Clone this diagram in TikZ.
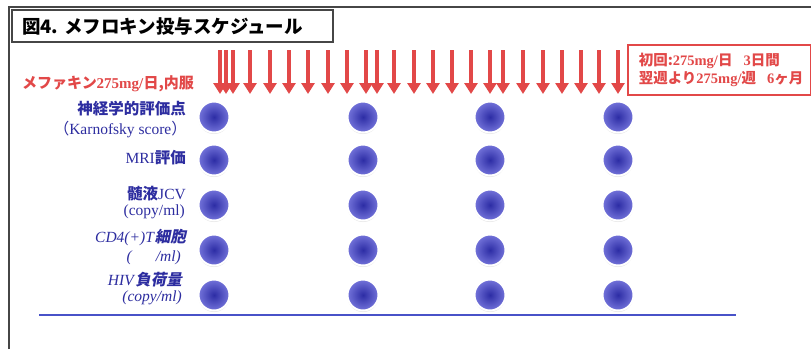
\documentclass[tikz,border=0pt]{standalone}
\usepackage{fontspec}
\setmainfont{Liberation Serif}
\newfontfamily\jp{Noto Sans CJK JP}
\newfontfamily\jpsl{Noto Sans CJK JP}[FakeSlant=0.2]
\usetikzlibrary{arrows.meta,shadows}

\definecolor{dosered}{RGB}{226,72,72}
\definecolor{labelblue}{RGB}{45,45,160}
\definecolor{axisblue}{RGB}{72,82,200}
\definecolor{dotcore}{RGB}{45,45,165}
\definecolor{dotedge}{RGB}{115,115,218}
\definecolor{framegray}{RGB}{70,70,70}

% Japanese bold / slanted helpers
\newcommand{\J}[1]{{\jp\bfseries #1}}
\newcommand{\JI}[1]{{\jpsl\bfseries #1}}
\newcommand{\Jr}[1]{{\jp #1}}

\tikzset{
  outerframe/.style={draw=framegray, line width=2pt},
  titlebox/.style={draw=framegray, line width=1.6pt},
  dose/.style={draw=dosered, line width=3.2pt, -{Triangle[width=13pt,length=11pt]}},
  lab/.style={anchor=east, text=labelblue, inner sep=0pt, font=\fontsize{15.5}{17}\selectfont},
  sample/.style={circle, minimum size=31pt, inner sep=0pt, inner color=dotcore, outer color=dotedge,
    draw=white, line width=2pt, drop shadow={shadow xshift=0pt, shadow yshift=-1.5pt, fill=black!22}},
  regbox/.style={draw=dosered, line width=1.5pt, text=dosered, inner xsep=11pt, inner ysep=4pt,
    font=\fontsize{14.5}{18}\selectfont, align=left},
  axis/.style={draw=axisblue, line width=2.5pt}
}

\begin{document}
\begin{tikzpicture}[x=1pt, y=-1pt]
\useasboundingbox (0,0) rectangle (811,349);
\fill[white] (0,0) rectangle (811,349);

% outer frame (top and left edges)
\draw[outerframe] (9,349) -- (9,7) -- (811,7);

% title
\draw[titlebox] (12,10) rectangle (333,42);
\node[anchor=west, inner sep=0pt, font=\fontsize{18.5}{20}\selectfont] (title) at (22,26) {\J{図4. メフロキン投与スケジュール}};

% dosing arrows: three daily doses, then weekly
\foreach \x in {220,226,233,250,270,289,308,328,347,366,377,394,414,433,452,471,490,503,523,543,562,581,599,618}
  \draw[dose] (\x,50) -- (\x,94);

\node[anchor=west, inner sep=0pt, text=dosered, font=\fontsize{15}{17}\selectfont] (doselabel) at (22,84)
  {\J{メファキン}\textbf{275mg/}\J{日,内服}};

% regimen box
\node[regbox, anchor=north west, minimum width=183pt, minimum height=50pt, text width=161pt] (regimen) at (627,44)
  {\mbox{\J{初回:}\textbf{275mg/}\J{日}\hspace{11pt}\textbf{3}\J{日間}}\\
   \mbox{\J{翌週より}\textbf{275mg/}\J{週}\hspace{11pt}\textbf{6}\J{ヶ月}}};

% row labels
\node[lab] (l1a) at (186,109) {\J{神経学的評価点}};
\node[lab] (l1b) at (187,130) {\Jr{（}Karnofsky score\Jr{）}};
\node[lab] (l2)  at (186,158) {MRI\J{評価}};
\node[lab] (l3a) at (186,194) {\J{髄液}JCV};
\node[lab] (l3b) at (185,212) {(copy/ml)};
\node[lab] (l4a) at (186,238) {\textit{CD4(+)T}\JI{細胞}};
\node[lab] (l4b) at (181,258) {\textit{(\hspace{24pt}/ml)}};
\node[lab] (l5a) at (182,280) {\textit{HIV}\JI{負荷量}};
\node[lab] (l5b) at (182,298) {\textit{(copy/ml)}};

% assessment time points
\foreach \c/\x in {1/214,2/363,3/490,4/618}
  \foreach \r/\y in {1/117,2/160,3/205,4/250,5/295}
    \node[sample] (d-\c-\r) at (\x,\y) {};

% time axis
\coordinate (axL) at (39,315);
\coordinate (axR) at (736,315);
\draw[axis] (axL) -- (axR);
\end{tikzpicture}
\end{document}
